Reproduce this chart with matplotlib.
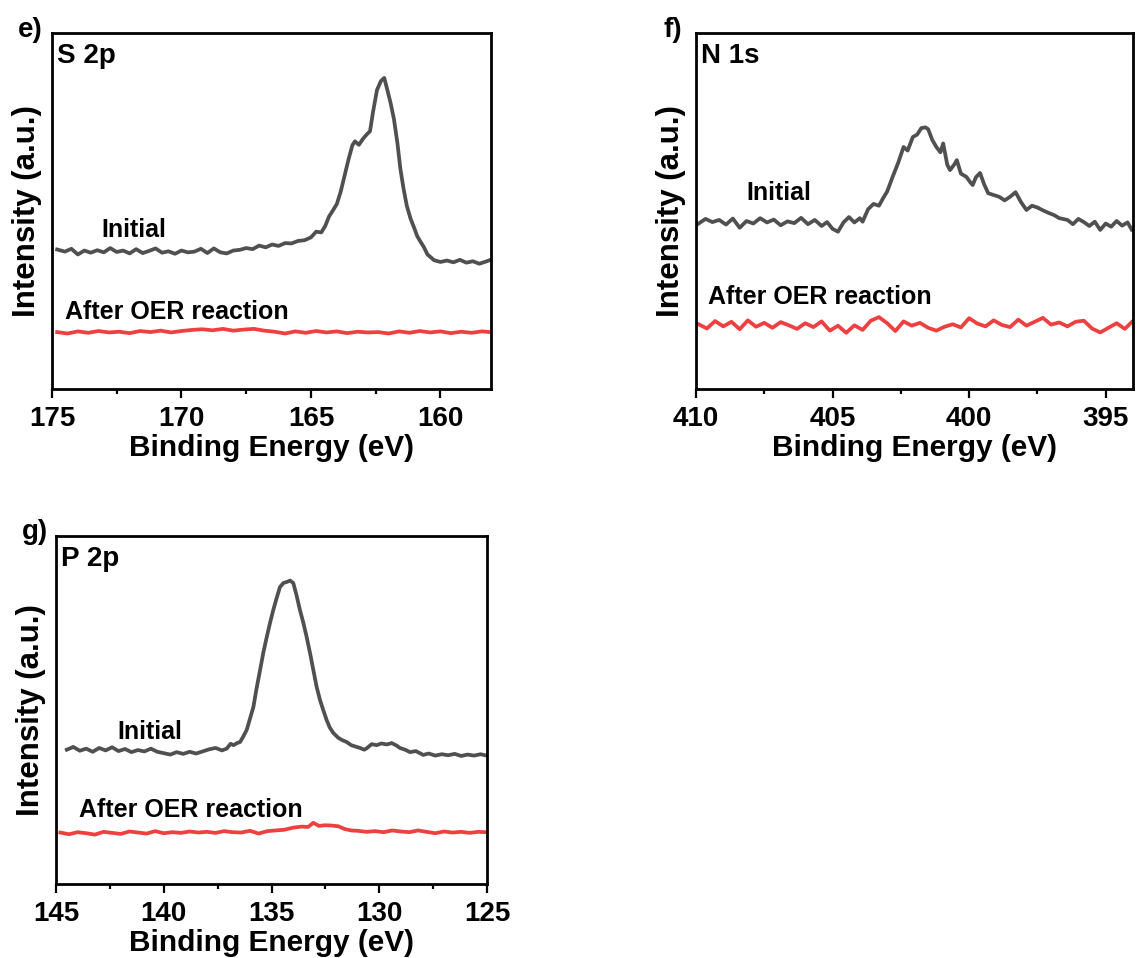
import matplotlib
matplotlib.use("Agg")
import matplotlib.pyplot as plt
from matplotlib.ticker import MultipleLocator

plt.rcParams['font.family'] = ['Liberation Sans', 'DejaVu Sans']
plt.rcParams['font.weight'] = 'bold'

GRAY = "#505050"
RED = "#EE4040"

# ---- S 2p ----
s_init_E = [174.8, 174.5, 174.25, 174.0, 173.75, 173.5, 173.25, 173.0, 172.75, 172.5,
            172.25, 172.0, 171.75, 171.5, 171.25, 171.0, 170.75, 170.5, 170.25, 170.0,
            169.75, 169.5, 169.25, 169.0, 168.75, 168.5, 168.25, 168.0, 167.75, 167.5,
            167.25, 167.0, 166.75, 166.5, 166.25, 166.0, 165.75, 165.5, 165.25, 165.0,
            164.8, 164.6, 164.45, 164.3, 164.15, 164.0, 163.85, 163.7, 163.55, 163.4,
            163.3, 163.15, 163.0, 162.85, 162.72, 162.6, 162.45, 162.3, 162.17, 162.05,
            161.93, 161.8, 161.66, 161.55, 161.43, 161.3, 161.16, 161.0, 160.9, 160.78,
            160.65, 160.5, 160.39, 160.25, 160.0, 159.75, 159.5, 159.25, 159.0, 158.75,
            158.5, 158.25, 158.1]
s_init_I = [39.2, 38.6, 39.4, 37.8, 38.9, 38.3, 39.0, 38.4, 39.6, 38.5,
            38.9, 38.1, 39.3, 38.2, 38.8, 39.5, 38.3, 38.7, 38.0, 38.9,
            38.4, 38.6, 39.4, 38.2, 39.5, 38.4, 38.1, 38.9, 39.1, 39.6,
            39.3, 40.3, 39.8, 40.6, 40.2, 41.0, 40.9, 41.6, 41.8, 42.6,
            44.2, 44.0, 45.8, 48.5, 50.2, 52.0, 55.5, 60.0, 64.5, 68.5,
            69.6, 68.6, 70.2, 71.5, 72.4, 78.0, 84.0, 86.5, 87.4, 84.0,
            80.5, 76.0, 69.0, 62.0, 56.5, 51.5, 48.0, 45.0, 43.0, 41.5,
            40.0, 37.8, 37.1, 36.2, 35.7, 36.1, 35.6, 36.3, 35.5, 35.9,
            35.2, 35.8, 36.2]
s_oer_E = [174.8, 174.4, 174.0, 173.6, 173.2, 172.8, 172.4, 172.0, 171.6, 171.2,
           170.8, 170.4, 170.0, 169.6, 169.2, 168.8, 168.4, 168.0, 167.6, 167.2,
           166.8, 166.4, 166.0, 165.6, 165.2, 164.8, 164.4, 164.0, 163.6, 163.2,
           162.8, 162.4, 162.0, 161.6, 161.2, 160.8, 160.4, 160.0, 159.6, 159.2,
           158.8, 158.4, 158.1]
s_oer_I = [16.0, 15.6, 16.2, 15.8, 16.3, 15.9, 16.1, 15.7, 16.3, 16.0,
           16.4, 15.9, 16.3, 16.6, 16.8, 16.5, 16.9, 16.4, 16.7, 16.9,
           16.4, 16.1, 15.6, 16.2, 15.8, 16.3, 15.9, 16.2, 15.7, 16.1,
           15.9, 16.0, 15.6, 16.2, 15.8, 16.3, 15.9, 16.2, 15.7, 16.1,
           15.8, 16.2, 16.0]

# ---- N 1s ----
n_init_E = [409.9, 409.65, 409.4, 409.15, 408.9, 408.65, 408.4, 408.15, 407.9, 407.65,
            407.4, 407.15, 406.9, 406.65, 406.4, 406.15, 405.9, 405.65, 405.4, 405.2,
            405.0, 404.8, 404.6, 404.4, 404.2, 404.0, 403.9, 403.7, 403.5, 403.3,
            403.15, 403.0, 402.8, 402.6, 402.4, 402.25, 402.06, 401.9, 401.75, 401.6,
            401.5, 401.35, 401.2, 401.05, 400.95, 400.8, 400.7, 400.55, 400.45, 400.3,
            400.1, 399.95, 399.87, 399.75, 399.6, 399.45, 399.3, 399.1, 398.9, 398.7,
            398.5, 398.3, 398.1, 397.9, 397.7, 397.5, 397.3, 397.1, 396.9, 396.7,
            396.4, 396.2, 396.0, 395.8, 395.6, 395.4, 395.2, 395.0, 394.8, 394.6,
            394.4, 394.2, 394.05]
n_init_I = [46.5, 47.8, 46.9, 47.5, 46.2, 47.9, 45.3, 47.2, 46.5, 48.0,
            46.8, 47.6, 46.0, 47.1, 46.6, 48.1, 46.3, 47.5, 45.8, 46.9,
            45.0, 44.2, 46.8, 48.3, 46.8, 48.0, 47.0, 50.5, 52.0, 51.5,
            53.6, 55.5, 59.6, 63.5, 68.0, 67.0, 70.8, 71.5, 73.3, 73.5,
            73.0, 70.0, 68.0, 66.5, 69.0, 63.0, 61.5, 63.0, 64.3, 60.5,
            59.6, 58.0, 57.3, 59.5, 60.7, 57.5, 55.0, 54.5, 54.0, 53.0,
            54.0, 55.3, 52.5, 50.3, 51.5, 51.0, 50.2, 49.5, 48.9, 48.0,
            47.5, 46.3, 47.8, 46.9, 45.8, 47.0, 44.7, 46.5, 45.6, 47.2,
            45.9, 46.8, 44.8]
n_oer_E = [409.9, 409.6, 409.3, 409.0, 408.7, 408.4, 408.1, 407.8, 407.5, 407.2,
           406.9, 406.6, 406.3, 406.0, 405.7, 405.4, 405.1, 404.8, 404.5, 404.2,
           403.9, 403.6, 403.3, 403.0, 402.7, 402.4, 402.1, 401.8, 401.5, 401.2,
           400.9, 400.6, 400.3, 400.0, 399.7, 399.4, 399.1, 398.8, 398.5, 398.2,
           397.9, 397.6, 397.3, 397.0, 396.7, 396.4, 396.1, 395.8, 395.5, 395.2,
           394.9, 394.6, 394.3, 394.05]
n_oer_I = [18.2, 17.0, 19.1, 17.6, 18.9, 16.8, 19.3, 17.5, 18.6, 17.2,
           18.8, 17.9, 16.9, 18.5, 17.4, 19.0, 16.4, 17.8, 15.8, 17.9,
           16.6, 19.2, 20.2, 18.5, 16.3, 19.0, 17.8, 18.6, 17.2, 16.4,
           17.5, 18.2, 17.3, 19.9, 18.4, 17.6, 19.3, 18.0, 17.4, 19.5,
           17.8, 18.9, 20.0, 18.1, 18.7, 17.6, 18.9, 19.2, 17.0, 15.9,
           17.2, 18.5, 16.9, 18.8]

# ---- P 2p ----
p_init_E = [144.5, 144.2, 143.9, 143.6, 143.3, 143.0, 142.7, 142.4, 142.1, 141.8,
            141.5, 141.2, 140.9, 140.6, 140.3, 140.0, 139.7, 139.4, 139.1, 138.8,
            138.5, 138.2, 137.9, 137.6, 137.3, 137.08, 136.9, 136.77, 136.6, 136.46,
            136.3, 136.15, 136.0, 135.84, 135.7, 135.53, 135.38, 135.22, 135.07, 134.92,
            134.77, 134.61, 134.45, 134.29, 134.14, 133.99, 133.84, 133.68, 133.52, 133.37,
            133.2, 133.06, 132.9, 132.75, 132.6, 132.44, 132.3, 132.13, 131.9, 131.7,
            131.51, 131.3, 131.1, 130.89, 130.7, 130.58, 130.35, 130.12, 129.9, 129.65,
            129.42, 129.2, 129.04, 128.8, 128.57, 128.3, 127.96, 127.7, 127.4, 127.1,
            126.8, 126.5, 126.2, 125.9, 125.6, 125.3, 125.09]
p_init_I = [38.6, 39.4, 38.3, 38.9, 38.0, 39.1, 38.4, 39.3, 38.2, 38.8,
            37.9, 38.5, 38.1, 38.9, 38.0, 37.6, 37.2, 37.9, 37.4, 38.0,
            37.5, 38.1, 38.7, 39.1, 38.4, 38.9, 40.3, 39.9, 40.5, 40.8,
            42.5, 44.3, 47.5, 50.9, 56.0, 61.5, 66.5, 71.0, 75.0, 78.7,
            82.0, 85.3, 86.5, 86.8, 87.2, 86.5, 83.0, 78.7, 75.0, 71.0,
            66.0, 61.5, 56.5, 52.9, 50.0, 47.1, 45.0, 43.4, 42.0, 41.3,
            40.8, 39.9, 39.5, 39.1, 38.6, 39.0, 40.2, 39.9, 40.4, 40.1,
            40.5, 39.8, 39.1, 38.6, 37.9, 38.2, 37.1, 37.5, 36.9, 37.3,
            37.0, 37.4, 36.8, 37.2, 36.9, 37.3, 37.0]
p_oer_E = [144.8, 144.4, 144.0, 143.6, 143.2, 142.8, 142.4, 142.0, 141.6, 141.2,
           140.8, 140.4, 140.0, 139.6, 139.2, 138.8, 138.4, 138.0, 137.6, 137.2,
           136.8, 136.4, 136.0, 135.6, 135.2, 134.8, 134.4, 134.0, 133.6, 133.3,
           133.06, 132.8, 132.5, 132.2, 131.9, 131.6, 131.3, 131.0, 130.6, 130.2,
           129.8, 129.4, 129.0, 128.6, 128.2, 127.8, 127.4, 127.0, 126.6, 126.2,
           125.8, 125.4, 125.09]
p_oer_I = [14.8, 14.3, 14.9, 14.6, 14.2, 15.0, 14.7, 14.4, 15.1, 14.8,
           14.5, 15.2, 14.6, 14.9, 14.7, 15.1, 14.8, 15.0, 14.7, 15.2,
           14.9, 14.8, 15.3, 14.5, 15.2, 15.4, 15.6, 16.2, 16.5, 16.4,
           17.6, 16.7, 16.9, 16.8, 16.6, 15.8, 15.4, 15.3, 15.0, 15.2,
           14.9, 15.4, 15.1, 14.9, 15.4, 15.0, 14.6, 15.1, 14.8, 15.0,
           14.7, 15.0, 14.9]

panels = [
    # rect, xlim, ticks, title, init, oer, initial label pos, oer label pos, letter, letter pos
    ([0.0457, 0.5939, 0.3861, 0.3716], (175, 158.05), [175, 170, 165, 160], "S 2p",
     (s_init_E, s_init_I), (s_oer_E, s_oer_I), (173.1, 44.7), (174.5, 21.6), "e)", (18, 30)),
    ([0.6121, 0.5939, 0.3844, 0.3716], (410, 394.0), [410, 405, 400, 395], "N 1s",
     (n_init_E, n_init_I), (n_oer_E, n_oer_I), (408.17, 55.0), (409.56, 25.8), "f)", (663, 30)),
    ([0.0493, 0.0772, 0.3790, 0.3633], (145, 125), [145, 140, 135, 130, 125], "P 2p",
     (p_init_E, p_init_I), (p_oer_E, p_oer_I), (142.17, 43.7), (143.93, 21.3), "g)", (22, 532)),
]

fig = plt.figure(figsize=(11.37, 9.58), dpi=100)
W, H = 1137, 958

for rect, xlim, ticks, title, init, oer, lab1, lab2, letter, lpos in panels:
    ax = fig.add_axes(rect)
    ax.plot(init[0], init[1], color=GRAY, lw=2.7, solid_joinstyle='round')
    ax.plot(oer[0], oer[1], color=RED, lw=2.7, solid_joinstyle='round')
    ax.set_xlim(*xlim)
    ax.set_ylim(0, 100)
    ax.set_xticks(ticks)
    step = ticks[0] - ticks[1]
    ax.xaxis.set_minor_locator(MultipleLocator(step / 2))
    ax.set_yticks([])
    ax.tick_params(axis='x', which='major', direction='out', length=6.5, width=1.6,
                   labelsize=20, pad=5.5)
    ax.tick_params(axis='x', which='minor', direction='out', length=3.5, width=1.6)
    for sp in ax.spines.values():
        sp.set_linewidth(2.0)
    ax.set_xlabel("Binding Energy (eV)", fontsize=21.5, fontweight='bold', labelpad=1.5)
    ax.set_ylabel("Intensity (a.u.)", fontsize=22.5, fontweight='bold', labelpad=7)
    ax.text(0.012, 0.935, title, transform=ax.transAxes, fontsize=20,
            fontweight='bold', va='center', ha='left')
    ax.text(lab1[0], lab1[1], "Initial", fontsize=18, fontweight='bold',
            va='center', ha='left')
    ax.text(lab2[0], lab2[1], "After OER reaction", fontsize=18, fontweight='bold',
            va='center', ha='left')
    fig.text(lpos[0] / W, 1 - lpos[1] / H, letter, fontsize=20, fontweight='bold',
             va='center', ha='left')

fig.savefig("out.png", dpi=100)
